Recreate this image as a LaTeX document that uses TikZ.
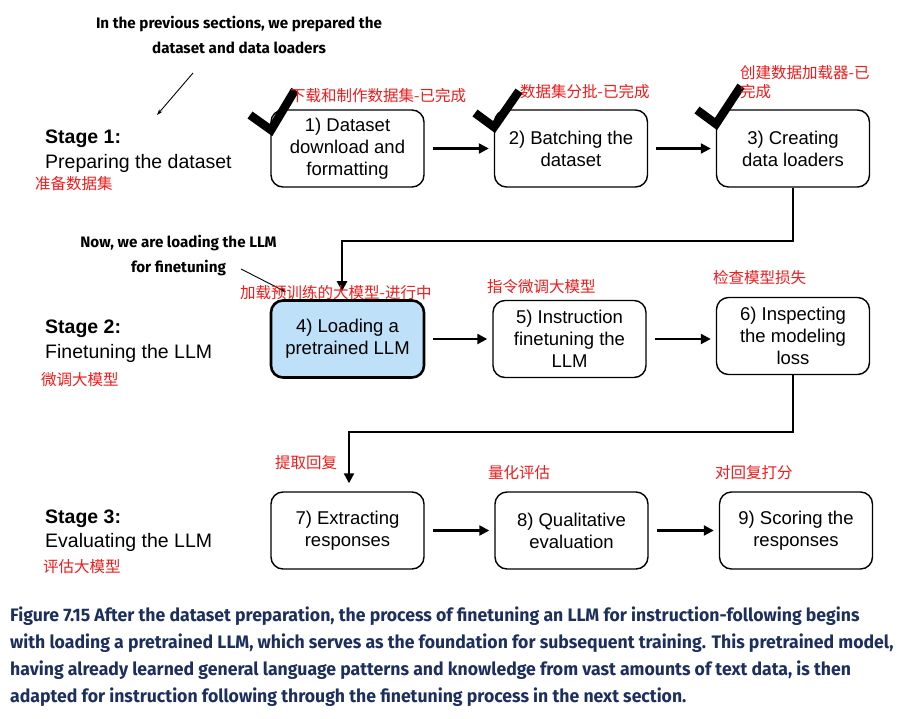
\documentclass[tikz,border=0pt]{standalone}
\usepackage{fontspec}
\setmainfont{Liberation Sans}
\newfontfamily\cjk{Noto Sans CJK SC}
\newfontfamily\annfont{Fira Sans}
\newfontfamily\capfont[FakeStretch=0.975]{Fira Sans}
\usetikzlibrary{arrows.meta}
\definecolor{capblue}{HTML}{1C2F5E}
\definecolor{fillblue}{HTML}{BEE0F8}
\definecolor{redlab}{HTML}{F21B1B}
\begin{document}
\begin{tikzpicture}[x=1pt,y=-1pt,
  stepbox/.style={draw, rounded corners=12pt, line width=1.4pt, minimum width=153pt, minimum height=77pt, align=center, inner sep=2pt, font=\fontsize{18.5}{22}\selectfont},
  conn/.style={line width=2.2pt, -{Triangle[length=10pt,width=10pt]}},
  thin/.style={line width=0.9pt, -{Stealth[length=6pt,width=4pt]}},
  redtxt/.style={anchor=west, text=redlab, inner sep=0pt, font=\cjk\fontsize{15.5}{19}\selectfont, align=left},
  ann/.style={inner sep=0pt, font=\annfont\bfseries\fontsize{15.2}{25}\selectfont, align=center},
  stagehead/.style={anchor=west, inner sep=0pt, font=\bfseries\fontsize{19.5}{24}\selectfont},
  stagesub/.style={anchor=west, inner sep=0pt, font=\fontsize{19.5}{24}\selectfont},
  capline/.style={anchor=west, inner sep=0pt, text=capblue, font=\capfont\bfseries\fontsize{18.1}{27}\selectfont},
  tick/.style={line width=8.5pt}
]
\useasboundingbox (0,0) rectangle (905,718);
\fill[white] (0,0) rectangle (905,718);

% boxes
\node[stepbox] (b1) at (347.5,148.5) {1) Dataset\\download and\\formatting};
\node[stepbox] (b2) at (571,148.5) {2) Batching the\\dataset};
\node[stepbox] (b3) at (793,148.5) {3) Creating\\data loaders};
\node[stepbox, fill=fillblue, line width=2.6pt] (b4) at (347.5,339) {4) Loading a\\pretrained LLM};
\node[stepbox] (b5) at (569.5,339) {5) Instruction\\finetuning the\\LLM};
\node[stepbox] (b6) at (793,336) {6) Inspecting\\the modeling\\loss};
\node[stepbox] (b7) at (347.5,530.5) {7) Extracting\\responses};
\node[stepbox] (b8) at (571.5,530.5) {8) Qualitative\\evaluation};
\node[stepbox] (b9) at (796,530.5) {9) Scoring the\\responses};

% connectors
\draw[conn, shorten <=8pt, shorten >=5pt] (b1.east) -- (b1.east -| b2.west);
\draw[conn, shorten <=8pt, shorten >=5pt] (b2.east) -- (b2.east -| b3.west);
\draw[conn, shorten <=8pt, shorten >=5pt] (b4.east) -- (b4.east -| b5.west);
\draw[conn, shorten <=8pt, shorten >=5pt] (b5.east) -- (b5.east -| b6.west);
\draw[conn, shorten <=8pt, shorten >=5pt] (b7.east) -- (b7.east -| b8.west);
\draw[conn, shorten <=8pt, shorten >=5pt] (b8.east) -- (b8.east -| b9.west);
\coordinate (c34) at (342,241);
\coordinate (c67) at (349,432);
\draw[conn, shorten >=8pt] (b3.south) |- (c34) -- (c34 |- b4.north);
\draw[conn, shorten >=8pt] (b6.south) |- (c67) -- (c67 |- b7.north);

% check marks
\draw[tick] (250,115) -- (271,130) -- (295,90);
\draw[tick] (475,113) -- (494,127) -- (519,91);
\draw[tick] (697,110) -- (716,124) -- (741,86);

% stage labels
\node[stagehead] (s1h) at (45,139) {Stage 1:};
\node[stagesub] (s1s) at (45,163) {Preparing the dataset};
\node[stagehead] (s2h) at (45,329) {Stage 2:};
\node[stagesub] (s2s) at (45,353) {Finetuning the LLM};
\node[stagehead] (s3h) at (45,519) {Stage 3:};
\node[stagesub] (s3s) at (45,542) {Evaluating the LLM};

% annotations
\node[ann] (a1) at (239,34.5) {In the previous sections, we prepared the\\dataset and data loaders};
\coordinate (a1s) at (193,73);
\coordinate (a1e) at (157,115);
\draw[thin] (a1s) -- (a1e);
\node[ann] (a2) at (178.5,255.5) {Now, we are loading the LLM\\for finetuning};
\coordinate (a2s) at (241,269);
\coordinate (a2e) at (286,292);
\draw[thin] (a2s) -- (a2e);

% red labels
\node[redtxt] (r1) at (290,96) {下载和制作数据集-已完成};
\node[redtxt] (r2) at (520,92) {数据集分批-已完成};
\node[redtxt, anchor=north west] (r3) at (740,65) {创建数据加载器-已\\完成};
\node[redtxt] (r0) at (35,184) {准备数据集};
\node[redtxt] (r4) at (240,293) {加载预训练的大模型-进行中};
\node[redtxt] (r5) at (487,287) {指令微调大模型};
\node[redtxt] (r6) at (713,278) {检查模型损失};
\node[redtxt] (rs2) at (41,380) {微调大模型};
\node[redtxt] (r7) at (275,463) {提取回复};
\node[redtxt] (r8) at (488,473) {量化评估};
\node[redtxt] (r9) at (715,473) {对回复打分};
\node[redtxt] (rs3) at (43,567) {评估大模型};

% caption
\node[capline] (cap1) at (10,616) {Figure 7.15 After the dataset preparation, the process of finetuning an LLM for instruction-following begins};
\node[capline] (cap2) at (10,643) {with loading a pretrained LLM, which serves as the foundation for subsequent training. This pretrained model,};
\node[capline] (cap3) at (10,670) {having already learned general language patterns and knowledge from vast amounts of text data, is then};
\node[capline] (cap4) at (10,697) {adapted for instruction following through the finetuning process in the next section.};
\end{tikzpicture}
\end{document}
